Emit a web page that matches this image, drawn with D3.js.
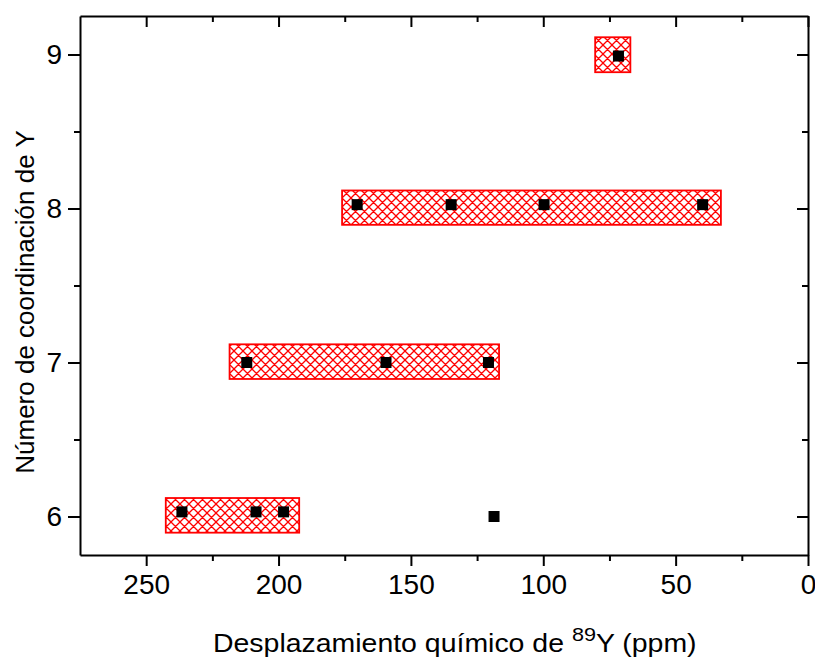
<!DOCTYPE html>
<html>
<head>
<meta charset="utf-8">
<script src="https://cdn.jsdelivr.net/npm/d3@7"></script>
<style>
  html, body { margin: 0; padding: 0; background: #fff; }
  svg { display: block; }
  text { font-family: "Liberation Sans", Arial, sans-serif; fill: #000; }
</style>
</head>
<body>
<svg id="chart" width="815" height="662"></svg>
<script>
// Chemical shift (ppm) and coordination number of each measured Y site
const shiftPpm     = [236.5, 208.5, 198.1, 118.6, 212.0, 159.4, 120.7, 170.3, 134.8, 99.7, 39.8, 71.6];
const coordNumber  = [6.03, 6.03, 6.03, 6.0, 7.0, 7.0, 7.0, 8.025, 8.025, 8.025, 8.025, 8.99];

// Shaded ranges of chemical shift for each coordination number
const rangeShiftMax = [242.6, 218.5, 176.0, 80.4];
const rangeShiftMin = [192.2, 116.7, 32.9, 67.1];
const rangeCoordLow  = [5.895, 6.893, 7.894, 8.885];
const rangeCoordHigh = [6.12, 7.118, 8.117, 9.112];

const xTicks = [250, 200, 150, 100, 50, 0];
const xMinor = [225, 175, 125, 75, 25];
const yTicks = [6, 7, 8, 9];
const yMinor = [6.5, 7.5, 8.5];

const svg = d3.select("#chart");
const pL = 80, pR = 808, pT = 16, pB = 555;

const x = d3.scaleLinear().domain([275, 0]).range([pL, pR]);
const y = d3.scaleLinear().domain([5.75, 9.25]).range([pB, pT]);

// Red cross-hatch fill
const P = 9;
const defs = svg.append("defs");
const pat = defs.append("pattern")
  .attr("id", "hatch")
  .attr("patternUnits", "userSpaceOnUse")
  .attr("width", P).attr("height", P);
pat.append("rect").attr("width", P).attr("height", P).attr("fill", "#fff");
pat.append("path")
  .attr("d", `M0,0 L${P},${P} M${P},0 L0,${P} M-1,${P - 1} L1,${P + 1} M${P - 1},-1 L${P + 1},1 M-1,1 L1,-1 M${P - 1},${P + 1} L${P + 1},${P - 1}`)
  .attr("stroke", "#ff0000").attr("stroke-width", 1.3).attr("fill", "none");

// Ranges
const ranges = rangeShiftMax.map((v, i) => ({ hi: v, lo: rangeShiftMin[i], c0: rangeCoordLow[i], c1: rangeCoordHigh[i] }));
svg.append("g").selectAll("rect").data(ranges).join("rect")
  .attr("x", d => x(d.hi))
  .attr("y", d => y(d.c1))
  .attr("width", d => x(d.lo) - x(d.hi))
  .attr("height", d => y(d.c0) - y(d.c1))
  .attr("fill", "url(#hatch)")
  .attr("stroke", "#ff0000")
  .attr("stroke-width", 1.8);

// Points
const pts = shiftPpm.map((v, i) => ({ s: v, n: coordNumber[i] }));
const m = 11;
svg.append("g").selectAll("rect").data(pts).join("rect")
  .attr("x", d => x(d.s) - m / 2)
  .attr("y", d => y(d.n) - m / 2)
  .attr("width", m).attr("height", m)
  .attr("fill", "#000");

// Axes
function styleAxis(g) {
  g.selectAll("path.domain").attr("stroke", "#000").attr("stroke-width", 2);
  g.selectAll(".tick line").attr("stroke", "#000").attr("stroke-width", 2);
}
function minorOnly(g) { styleAxis(g); g.select("path.domain").remove(); }

// bottom
const gB = svg.append("g").attr("transform", `translate(0,${pB})`)
  .call(d3.axisBottom(x).tickValues(xTicks).tickSize(11).tickPadding(8).tickSizeOuter(0));
gB.selectAll("text").attr("font-size", 28);
styleAxis(gB);
svg.append("g").attr("transform", `translate(0,${pB})`)
  .call(d3.axisBottom(x).tickValues(xMinor).tickSize(6).tickFormat("").tickSizeOuter(0))
  .call(minorOnly);

// top (inward ticks)
svg.append("g").attr("transform", `translate(0,${pT})`)
  .call(d3.axisTop(x).tickValues(xTicks).tickSize(-11).tickFormat("").tickSizeOuter(0))
  .call(styleAxis);
svg.append("g").attr("transform", `translate(0,${pT})`)
  .call(d3.axisTop(x).tickValues(xMinor).tickSize(-6).tickFormat("").tickSizeOuter(0))
  .call(minorOnly);

// left
const gL = svg.append("g").attr("transform", `translate(${pL},0)`)
  .call(d3.axisLeft(y).tickValues(yTicks).tickSize(12).tickPadding(6).tickFormat(d3.format("d")).tickSizeOuter(0));
gL.selectAll("text").attr("font-size", 28);
styleAxis(gL);
svg.append("g").attr("transform", `translate(${pL},0)`)
  .call(d3.axisLeft(y).tickValues(yMinor).tickSize(6).tickFormat("").tickSizeOuter(0))
  .call(minorOnly);

// right (inward ticks)
svg.append("g").attr("transform", `translate(${pR},0)`)
  .call(d3.axisRight(y).tickValues(yTicks).tickSize(-11).tickFormat("").tickSizeOuter(0))
  .call(styleAxis);
svg.append("g").attr("transform", `translate(${pR},0)`)
  .call(d3.axisRight(y).tickValues(yMinor).tickSize(-6).tickFormat("").tickSizeOuter(0))
  .call(minorOnly);

// X axis title, widened to span 213..697
const xtG = svg.append("g");
const xt = xtG.append("text")
  .attr("x", 0).attr("y", 0)
  .attr("font-size", 25);
xt.append("tspan").text("Desplazamiento químico de ");
xt.append("tspan").attr("font-size", 19).attr("dy", -11).text("89");
xt.append("tspan").attr("dy", 11).text("Y (ppm)");
const bb = xt.node().getBBox();
const sx = (697 - 213) / bb.width;
xtG.attr("transform", `translate(213,652) scale(${sx},1) translate(${-bb.x},0)`);

// Y axis title
svg.append("text")
  .attr("transform", `translate(34,302) rotate(-90)`)
  .attr("text-anchor", "middle").attr("font-size", 26)
  .text("Número de coordinación de Y");
</script>
</body>
</html>
